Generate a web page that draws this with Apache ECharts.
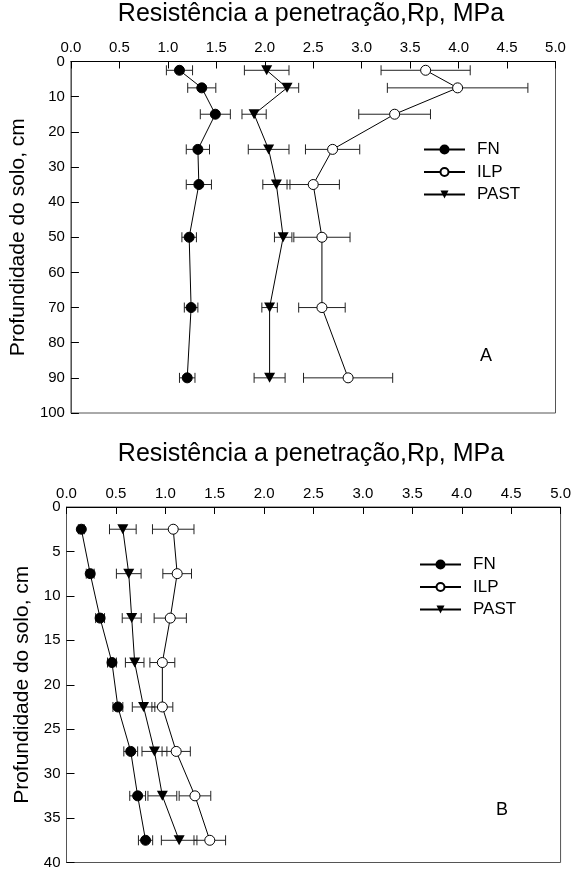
<!DOCTYPE html>
<html><head><meta charset="utf-8">
<script src="https://cdn.jsdelivr.net/npm/echarts@6/dist/echarts.min.js"></script>
<style>html,body{margin:0;padding:0;background:#fff}#c{width:574px;height:870px}</style>
</head><body><div id="c"></div>
<script>
const xTicks = ['0.0','0.5','1.0','1.5','2.0','2.5','3.0','3.5','4.0','4.5','5.0'];
const seriesNames = ['FN','ILP','PAST'];
const xTitle = 'Resistência a penetração,Rp, MPa';
const yTitle = 'Profundidade do solo, cm';

const depthA = [2.5,7.5,15,25,35,50,70,90];
const fnA = [1.12,1.35,1.49,1.31,1.32,1.22,1.24,1.20];
const fnAErr = [0.135,0.145,0.155,0.12,0.13,0.075,0.07,0.08];
const ilpA = [3.66,3.99,3.34,2.70,2.50,2.59,2.59,2.86];
const ilpAErr = [0.46,0.725,0.37,0.28,0.27,0.29,0.24,0.46];
const pastA = [2.02,2.23,1.89,2.04,2.12,2.19,2.05,2.05];
const pastAErr = [0.23,0.12,0.125,0.21,0.14,0.09,0.08,0.16];

const depthB = [2.5,7.5,12.5,17.5,22.5,27.5,32.5,37.5];
const fnB = [0.15,0.24,0.34,0.46,0.52,0.65,0.72,0.80];
const fnBErr = [0.03,0.04,0.045,0.045,0.05,0.07,0.08,0.072];
const ilpB = [1.08,1.12,1.05,0.97,0.97,1.11,1.30,1.45];
const ilpBErr = [0.21,0.145,0.163,0.126,0.106,0.143,0.16,0.16];
const pastB = [0.57,0.63,0.66,0.69,0.78,0.89,0.97,1.14];
const pastBErr = [0.135,0.125,0.096,0.094,0.114,0.126,0.146,0.18];

const FONT = 'Liberation Sans, Arial, sans-serif';
const TRI = 'path://M0,0 L10,0 L5,9 Z';
const markers = {
  FN: {symbol:'circle', size:10, itemStyle:{color:'#000',borderColor:'#000',borderWidth:1}},
  ILP: {symbol:'circle', size:10, itemStyle:{color:'#fff',borderColor:'#000',borderWidth:1}},
  PAST: {symbol:TRI, size:[11,10], itemStyle:{color:'#000',borderColor:'#000',borderWidth:0}}
};

function errRender(params, api){
  const v = api.value(0), d = api.value(1), e = api.value(2);
  const a = api.coord([v - e, d]), b = api.coord([v + e, d]);
  const h = 5;
  const st = {stroke:'#222', lineWidth:1};
  return {type:'group', children:[
    {type:'line', shape:{x1:a[0],y1:a[1],x2:b[0],y2:b[1]}, style:st},
    {type:'line', shape:{x1:a[0],y1:a[1]-h,x2:a[0],y2:a[1]+h}, style:st},
    {type:'line', shape:{x1:b[0],y1:b[1]-h,x2:b[0],y2:b[1]+h}, style:st}
  ]};
}

function mkSeries(idx, depth, vals, errs, name){
  const m = markers[name];
  return [
    {type:'custom', name:name + ' err', xAxisIndex:idx, yAxisIndex:idx, renderItem:errRender, z:1,
     itemStyle:{color:'#000'},
     encode:{x:0,y:1}, data: vals.map((v,i)=>[v, depth[i], errs[i]]), silent:true},
    {type:'line', name:name, xAxisIndex:idx, yAxisIndex:idx, z:3,
     data: vals.map((v,i)=>[v, depth[i]]), symbol:m.symbol, symbolSize:m.size, showAllSymbol:true,
     lineStyle:{color:'#000', width:1}, itemStyle:m.itemStyle, animation:false}
  ];
}

function xAxis(idx){
  return {type:'value', gridIndex:idx, position:'top', min:0, max:5, interval:0.5,
    axisLine:{show:true, lineStyle:{color:'#000', width:1}},
    axisTick:{show:true, inside:true, length:7, lineStyle:{color:'#000'}},
    axisLabel:{fontFamily:FONT, fontSize:15, color:'#000', margin:6, formatter:(v)=>xTicks[Math.round(v*2)]},
    splitLine:{show:false}};
}
function yAxis(idx, max, interval){
  return {type:'value', gridIndex:idx, inverse:true, min:0, max:max, interval:interval,
    name:yTitle, nameLocation:'middle', nameRotate:90, nameGap:33,
    nameTextStyle:{fontFamily:FONT, fontSize:21, color:'#000'},
    axisLine:{show:true, lineStyle:{color:'#555', width:1}},
    axisTick:{show:true, inside:true, length:8, lineStyle:{color:'#000'}},
    axisLabel:{fontFamily:FONT, fontSize:15, color:'#000', margin:6},
    splitLine:{show:false}};
}

const chart = echarts.init(document.getElementById('c'), null, {renderer:'canvas'});
const series = [].concat(
  mkSeries(0, depthA, fnA, fnAErr, 'FN'),
  mkSeries(0, depthA, ilpA, ilpAErr, 'ILP'),
  mkSeries(0, depthA, pastA, pastAErr, 'PAST'),
  mkSeries(1, depthB, fnB, fnBErr, 'FN'),
  mkSeries(1, depthB, ilpB, ilpBErr, 'ILP'),
  mkSeries(1, depthB, pastB, pastBErr, 'PAST')
);
const legendBase = {orient:'vertical', itemWidth:41, itemHeight:10, itemGap:5.5, selectedMode:false,
  textStyle:{fontFamily:FONT, fontSize:17, color:'#000', padding:[0,0,0,7]},
  data: seriesNames};

chart.setOption({
  animation:false,
  backgroundColor:'#fff',
  title:[
    {text:xTitle, left:306, textAlign:'center', top:-3, textStyle:{fontFamily:FONT, fontSize:25, fontWeight:'normal', color:'#000'}},
    {text:xTitle, left:306, textAlign:'center', top:437, textStyle:{fontFamily:FONT, fontSize:25, fontWeight:'normal', color:'#000'}},
    {text:'A', left:475, top:342, textStyle:{fontFamily:FONT, fontSize:18, fontWeight:'normal', color:'#000'}},
    {text:'B', left:491, top:796, textStyle:{fontFamily:FONT, fontSize:18, fontWeight:'normal', color:'#000'}}
  ],
  grid:[
    {left:65, top:61.5, width:490.5, height:351.5, show:true, borderColor:'#555', borderWidth:1},
    {left:66.5, top:507, width:495, height:355.5, show:true, borderColor:'#555', borderWidth:1}
  ],
  xAxis:[xAxis(0), xAxis(1)],
  yAxis:[yAxis(0,100,10), yAxis(1,40,5)],
  legend:[
    Object.assign({}, legendBase, {left:418, top:136}),
    Object.assign({}, legendBase, {left:414, top:551})
  ],
  series: series
});
</script></body></html>
